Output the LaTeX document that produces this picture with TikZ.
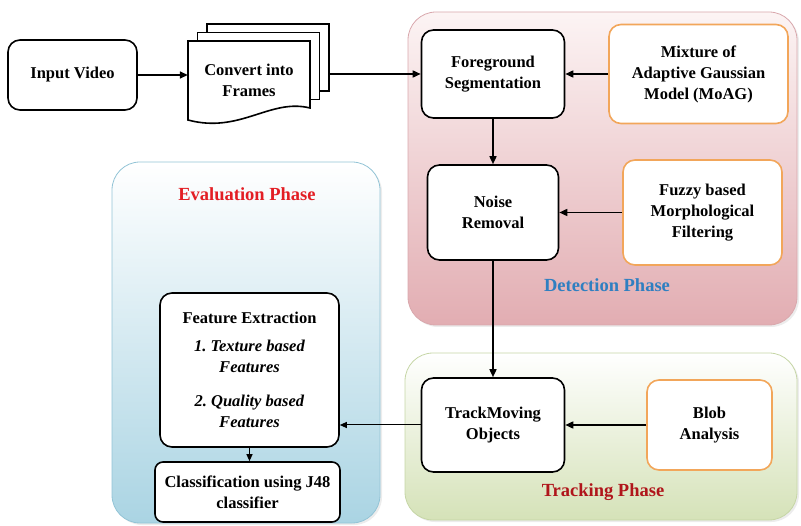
\documentclass[tikz,border=0pt]{standalone}
\usepackage{fontspec}
\setmainfont{Liberation Serif}
\usetikzlibrary{arrows.meta,shadows}
\definecolor{boxorange}{HTML}{F2A65A}
\definecolor{pinktop}{HTML}{FCF4F4}
\definecolor{pinkbot}{HTML}{E2ADB2}
\definecolor{pinkline}{HTML}{D9A8AD}
\definecolor{greenbot}{HTML}{D5E2B8}
\definecolor{greenline}{HTML}{C6D6A6}
\definecolor{bluebot}{HTML}{AAD4E3}
\definecolor{blueline}{HTML}{93C4D6}
\definecolor{evalred}{HTML}{E31E24}
\definecolor{trackred}{HTML}{B0151B}
\definecolor{detblue}{HTML}{2F7FC1}
\tikzset{
  blk/.style={draw=black, line width=1.6pt, rounded corners=12pt, fill=white, align=center,
    font=\bfseries\fontsize{16.5}{21}\selectfont, inner sep=2pt},
  org/.style={blk, draw=boxorange},
  arr/.style={-{Triangle[length=8pt,width=7pt]}, line width=1.6pt},
  thinarr/.style={-{Triangle[length=7pt,width=6pt]}, line width=1pt},
  phase/.style={font=\bfseries\fontsize{18.5}{22}\selectfont},
  region/.style={rounded corners=28pt, line width=0.8pt,
    drop shadow={opacity=0.15, shadow xshift=2pt, shadow yshift=-2pt}},
  page/.style={draw=black, line width=1.6pt, fill=white}
}
\begin{document}
\begin{tikzpicture}[x=1pt,y=-1pt]
  \useasboundingbox (0,0) rectangle (801,526);
  % phase regions
  \path[region, draw=pinkline, top color=pinktop, bottom color=pinkbot] (408,12) rectangle (797,325);
  \path[region, draw=greenline, top color=white, bottom color=greenbot] (405,353) rectangle (797,520);
  \path[region, draw=blueline, top color=white, bottom color=bluebot] (112,162) rectangle (380,523);
  \node[phase, text=detblue] (detlbl) at (607,285) {Detection Phase};
  \node[phase, text=trackred] (tracklbl) at (603,492) {Tracking Phase};
  \node[phase, text=evalred] (evallbl) at (247,194) {Evaluation Phase};
  % stacked pages
  \foreach \d in {2,1} \draw[page] ({188+9.5*\d},{41-8.5*\d}) rectangle ++(122,67);
  \draw[page] (188,41) -- (310,41) -- (310,108) .. controls (270,98) and (240,134) .. (188,120) -- cycle;
  \node[align=center, font=\bfseries\fontsize{16.5}{21}\selectfont, minimum width=122pt, minimum height=78pt] (frames) at (249,80) {Convert into\\Frames};
  \coordinate (framesout) at (329,74);
  % boxes
  \node[blk, minimum width=129pt, minimum height=70pt] (input) at (72.5,75) {Input Video};
  \node[blk, minimum width=143pt, minimum height=88pt] (fg) at (493,74) {Foreground\\Segmentation};
  \node[org, minimum width=179pt, minimum height=99pt] (moag) at (698.5,74) {Mixture of\\Adaptive Gaussian\\Model (MoAG)};
  \node[blk, minimum width=131pt, minimum height=95pt] (noise) at (493,212.5) {Noise\\Removal};
  \node[org, minimum width=159pt, minimum height=105pt] (fuzzy) at (702.5,212.5) {Fuzzy based\\Morphological\\Filtering};
  \node[blk, minimum width=143pt, minimum height=94pt] (track) at (493,425) {TrackMoving\\Objects};
  \node[org, minimum width=125pt, minimum height=90pt] (blob) at (709.5,425) {Blob\\Analysis};
  \node[blk, minimum width=179pt, minimum height=154pt] (feat) at (249.5,370) {Feature Extraction\\[7pt]
    \textit{1.\ Texture based}\\ \textit{Features}\\[13pt] \textit{2.\ Quality based}\\ \textit{Features}};
  \node[blk, rounded corners=8pt, minimum width=185pt, minimum height=60pt] (cls) at (247.5,492) {Classification using J48\\classifier};
  % connectors
  \draw[arr] (input) -- (input -| frames.west);
  \draw[arr] (framesout) -- (framesout -| fg.west);
  \draw[arr] (moag) -- (fg);
  \draw[arr] (fg) -- (noise);
  \draw[arr] (fuzzy) -- (noise);
  \draw[arr] (noise) -- (track);
  \draw[arr] (blob) -- (track);
  \draw[thinarr] (track) -- (track -| feat.east);
  \draw[thinarr] (feat) -- (feat |- cls.north);
\end{tikzpicture}
\end{document}
